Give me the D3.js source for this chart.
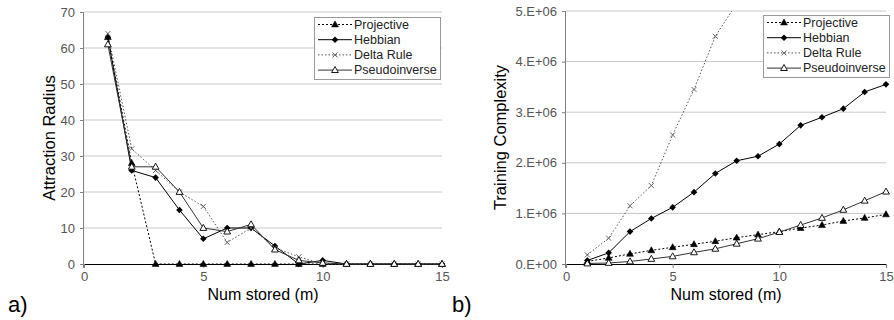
<!DOCTYPE html>
<html>
<head>
<meta charset="utf-8">
<script src="https://cdn.jsdelivr.net/npm/d3@7"></script>
<style>
  body { margin: 0; background: #fff; }
  svg { display: block; }
  text { font-family: "Liberation Sans", Arial, sans-serif; }
</style>
</head>
<body>
<svg id="chart" width="894" height="320"></svg>
<script>
// number of stored patterns (x values)
const numStored = [1, 2, 3, 4, 5, 6, 7, 8, 9, 10, 11, 12, 13, 14, 15];
const seriesNames = ["Projective", "Hebbian", "Delta Rule", "Pseudoinverse"];

// a) attraction radius
const radiusProjective = [63, 28, 0, 0, 0, 0, 0, 0, 0, 0, 0, 0, 0, 0, 0];
const radiusHebbian = [63, 26, 24, 15, 7, 10, 10, 5, 0, 1, 0, 0, 0, 0, 0];
const radiusDelta = [64, 32, 26, 20, 16, 6, 10, 4.5, 2, 0, 0, 0, 0, 0, 0];
const radiusPseudo = [61, 27, 27, 20, 10, 9, 11, 4, 1, 0.3, 0, 0, 0, 0, 0];
const radiusTicks = [0, 10, 20, 30, 40, 50, 60, 70];

// b) training complexity (delta rule leaves the chart after m=7)
const costProjective = [0.05e6, 0.12e6, 0.2e6, 0.27e6, 0.33e6, 0.39e6, 0.45e6, 0.52e6, 0.58e6, 0.64e6, 0.71e6, 0.77e6, 0.85e6, 0.91e6, 0.98e6];
const costHebbian = [0.07e6, 0.22e6, 0.64e6, 0.9e6, 1.12e6, 1.42e6, 1.79e6, 2.04e6, 2.13e6, 2.37e6, 2.74e6, 2.9e6, 3.07e6, 3.4e6, 3.55e6];
const costDelta = [0.18e6, 0.51e6, 1.15e6, 1.55e6, 2.55e6, 3.45e6, 4.5e6, 5.15e6];
const costPseudo = [0.01e6, 0.02e6, 0.05e6, 0.1e6, 0.15e6, 0.23e6, 0.3e6, 0.4e6, 0.5e6, 0.63e6, 0.77e6, 0.91e6, 1.07e6, 1.25e6, 1.43e6];
const costTicks = [0, 1e6, 2e6, 3e6, 4e6, 5e6];

const xTicks = [0, 5, 10, 15];

// line + marker style for each series, same order as seriesNames
const styles = [
  { dash: "2,2", stroke: "#000", marker: "triFill" },
  { dash: null, stroke: "#000", marker: "diamond" },
  { dash: "1.5,2", stroke: "#555", marker: "cross" },
  { dash: null, stroke: "#333", marker: "triOpen" }
];

const svg = d3.select("#chart");

// draw one excel-ish marker at x,y
function drawMarker(g, type, x, y) {
  if (type === "triFill" || type === "triOpen") {
    g.append("path")
      .attr("d", `M${x},${y - 3.6}L${x + 3.4},${y + 2.4}L${x - 3.4},${y + 2.4}Z`)
      .attr("fill", type === "triFill" ? "#000" : "#fff")
      .attr("stroke", "#000")
      .attr("stroke-width", type === "triFill" ? 0.6 : 0.9);
  } else if (type === "diamond") {
    g.append("path")
      .attr("d", `M${x},${y - 3.3}L${x + 3.3},${y}L${x},${y + 3.3}L${x - 3.3},${y}Z`)
      .attr("fill", "#000");
  } else {
    g.append("path")
      .attr("d", `M${x - 2.5},${y - 2.5}L${x + 2.5},${y + 2.5}M${x + 2.5},${y - 2.5}L${x - 2.5},${y + 2.5}`)
      .attr("stroke", "#666")
      .attr("stroke-width", 1);
  }
}

function drawChart(opts) {
  const x = d3.scaleLinear().domain([0, 15]).range([opts.left, opts.right]);
  const y = d3.scaleLinear().domain([0, opts.yMax]).range([opts.bottom, opts.top]);
  const g = svg.append("g");

  // gridlines
  g.selectAll(".grid")
    .data(opts.yTicks.filter(d => d > 0))
    .enter()
    .append("line")
      .attr("x1", opts.left)
      .attr("x2", opts.right)
      .attr("y1", d => y(d))
      .attr("y2", d => y(d))
      .attr("stroke", "#c8c8c8")
      .attr("stroke-width", 1);

  // y axis
  const yAxis = d3.axisLeft(y).tickValues(opts.yTicks).tickSize(4).tickPadding(5).tickFormat(opts.yFormat);
  const ya = g.append("g").attr("transform", `translate(${opts.left},0)`).call(yAxis);
  ya.select(".domain").attr("stroke", "#808080").attr("d", `M-0.5,${opts.top}V${opts.bottom + 4}`);
  ya.selectAll(".tick line").attr("stroke", "#808080");
  ya.selectAll(".tick text")
    .attr("fill", "#555")
    .attr("font-size", "13px")
    .attr("font-family", "'Liberation Sans', Arial, sans-serif");

  // x axis
  const xAxis = d3.axisBottom(x).tickValues(xTicks).tickSize(4).tickPadding(4).tickFormat(d3.format("d"));
  const xa = g.append("g").attr("transform", `translate(0,${opts.bottom})`).call(xAxis);
  xa.select(".domain").attr("stroke", "#000").attr("d", `M${opts.left},0.5H${opts.right}`);
  xa.selectAll(".tick line").attr("stroke", "#808080");
  xa.selectAll(".tick text")
    .attr("fill", "#555")
    .attr("font-size", "13px")
    .attr("font-family", "'Liberation Sans', Arial, sans-serif");

  // axis titles
  g.append("text")
    .attr("x", (opts.left + opts.right) / 2)
    .attr("y", 300)
    .attr("text-anchor", "middle")
    .attr("font-size", "16px")
    .text("Num stored (m)");
  g.append("text")
    .attr("transform", `translate(${opts.titleX},${(opts.top + opts.bottom) / 2}) rotate(-90)`)
    .attr("text-anchor", "middle")
    .attr("dominant-baseline", "central")
    .attr("font-size", "16.5px")
    .text(opts.yTitle);

  // clip so the delta rule line stops at the top
  const clipId = "clip" + opts.id;
  svg.append("clipPath").attr("id", clipId)
    .append("rect")
      .attr("x", opts.left - 6)
      .attr("y", opts.top)
      .attr("width", opts.right - opts.left + 12)
      .attr("height", opts.bottom - opts.top + 6);

  const plot = g.append("g").attr("clip-path", `url(#${clipId})`);
  const line = d3.line().x((d, i) => x(numStored[i])).y(d => y(d));

  opts.series.forEach((vals, s) => {
    plot.append("path")
      .attr("d", line(vals))
      .attr("fill", "none")
      .attr("stroke", styles[s].stroke)
      .attr("stroke-width", 1)
      .attr("stroke-dasharray", styles[s].dash);
  });
  opts.series.forEach((vals, s) => {
    vals.forEach((v, i) => drawMarker(plot, styles[s].marker, x(numStored[i]), y(v)));
  });

  // legend
  const lg = g.append("g").attr("transform", `translate(${opts.legendX},${opts.legendY})`);
  lg.append("rect")
    .attr("x", 0.5).attr("y", 0.5)
    .attr("width", 126).attr("height", 62)
    .attr("fill", "#fff")
    .attr("stroke", "#999");
  seriesNames.forEach((name, s) => {
    const ly = 7.5 + s * 15.2;
    lg.append("line")
      .attr("x1", 4).attr("x2", 38)
      .attr("y1", ly).attr("y2", ly)
      .attr("stroke", styles[s].stroke)
      .attr("stroke-dasharray", styles[s].dash);
    drawMarker(lg, styles[s].marker, 21, ly);
    lg.append("text")
      .attr("x", 40)
      .attr("y", ly)
      .attr("dominant-baseline", "central")
      .attr("font-size", "12.5px")
      .attr("fill", "#222")
      .text(name);
  });

  // panel letter
  svg.append("text")
    .attr("x", opts.letterX)
    .attr("y", 312)
    .attr("font-family", "'Liberation Serif', 'Times New Roman', serif")
    .attr("font-size", "22px")
    .text(opts.letter);
}

drawChart({
  id: "a", left: 84, right: 442, top: 12, bottom: 264, yMax: 70,
  yTicks: radiusTicks, yFormat: d3.format("d"),
  yTitle: "Attraction Radius", titleX: 49,
  series: [radiusProjective, radiusHebbian, radiusDelta, radiusPseudo],
  legendX: 314, legendY: 17, letter: "a)", letterX: 8
});

drawChart({
  id: "b", left: 566, right: 886, top: 11, bottom: 264, yMax: 5e6,
  yTicks: costTicks, yFormat: d => (d / 1e6) + ".E+0" + (d === 0 ? "0" : "6"),
  yTitle: "Training Complexity", titleX: 500,
  series: [costProjective, costHebbian, costDelta, costPseudo],
  legendX: 763, legendY: 15, letter: "b)", letterX: 452
});
</script>
</body>
</html>
